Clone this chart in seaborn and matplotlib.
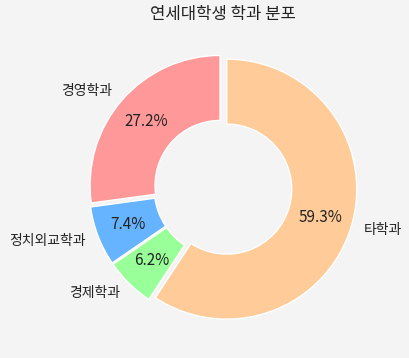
import matplotlib
matplotlib.use("Agg")
import matplotlib.pyplot as plt
import seaborn as sns

departments = ["경영학과", "정치외교학과", "경제학과", "타학과"]
counts = [44, 12, 10, 96]
colors = ["#ff9999", "#66b3ff", "#99ff99", "#ffcc99"]
title = "연세대학생 학과 분포"

sns.set_theme(style="white")
plt.rcParams['font.family'] = ['Noto Sans CJK KR', 'DejaVu Sans']
bg = "#f4f4f4"

W, H = 410, 358
fig = plt.figure(figsize=(W / 100, H / 100), dpi=100)
fig.patch.set_facecolor(bg)
ax = fig.add_axes([0, 0, 1, 1])
ax.set_facecolor(bg)

wedges, texts, autotexts = ax.pie(
    counts, labels=departments, colors=colors, autopct="%1.1f%%",
    startangle=90, explode=[0.03] * 4, pctdistance=0.75,
    wedgeprops=dict(width=0.5), textprops=dict(fontsize=10, color="#222222"))
for t in autotexts:
    t.set_fontsize(11)
scale = 130.0
cx, cy = 223, 188
ax.set_xlim(-cx / scale, (W - cx) / scale)
ax.set_ylim(-(H - cy) / scale, cy / scale)
ax.set_aspect("equal")
ax.axis("off")
fig.text(cx / W, 1 - 15 / H, title, ha="center", va="center", fontsize=12, color="#222222")
fig.savefig("out.png", dpi=100, facecolor=bg)
